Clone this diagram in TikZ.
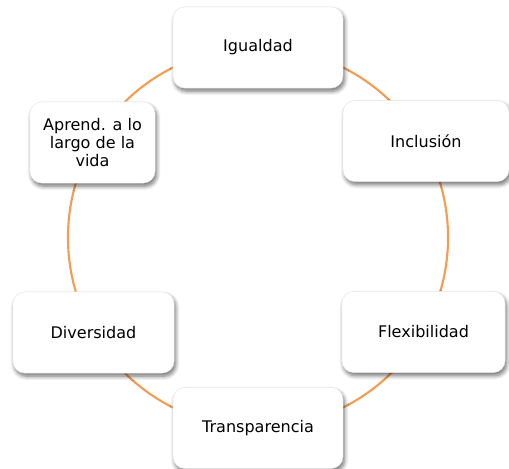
\documentclass[tikz,border=0pt]{standalone}
\usepackage{fontspec}
\setmainfont{DejaVu Sans}
\usetikzlibrary{shadows.blur}
\definecolor{anillo}{RGB}{244,156,82}

\begin{document}
\begin{tikzpicture}[x=0.025cm, y=-0.025cm,
    valor/.style={rectangle, rounded corners=0.3cm, draw=black!10, line width=0.3pt, fill=white,
      minimum height=2.03cm, align=center, font=\fontsize{11.4}{12.6}\selectfont,
      blur shadow={shadow xshift=0.04cm, shadow yshift=-0.08cm, shadow blur steps=6, shadow blur radius=0.1cm, shadow opacity=55}},
    anillo/.style={draw=anillo, line width=1.5pt}]
      \useasboundingbox (0,0) rectangle (509,469);
      \coordinate (centro) at (258,237.5);
      \draw[anillo] (centro) circle[radius=4.75cm];

      \node[valor, minimum width=4.25cm] (igualdad) at (258,47.5) {Igualdad};
      \node[valor, minimum width=4.15cm] (inclusion) at (426,141) {Inclusión};
      \node[valor, minimum width=4.08cm] (flexibilidad) at (423.5,332) {Flexibilidad};
      \node[valor, minimum width=4.25cm] (transparencia) at (258,428) {Transparencia};
      \node[valor, minimum width=4.03cm] (diversidad) at (93.5,332.5) {Diversidad};
      \node[valor, minimum width=3.13cm] (aprend) at (92.5,142.5) {Aprend. a lo\\largo de la\\vida};
    \end{tikzpicture}
\end{document}
